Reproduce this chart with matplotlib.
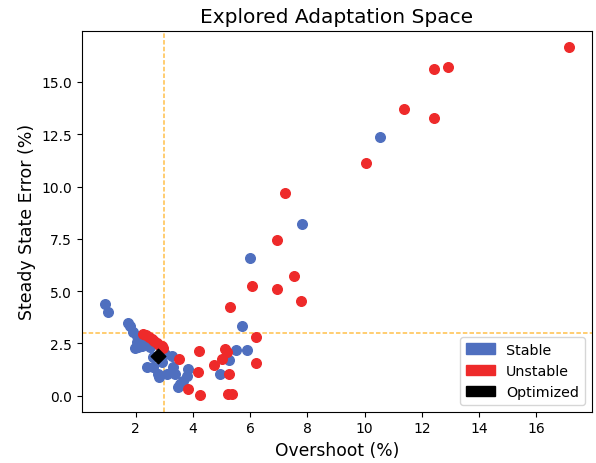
import numpy as np
import matplotlib
matplotlib.use("Agg")
import matplotlib.pyplot as plt
from matplotlib.patches import Patch

# 稳定点 (overshoot %, steady state error %)
stable_x = [0.93, 1.02, 1.74, 1.80, 1.92, 2.03, 2.15, 2.33, 2.50, 2.03, 2.09, 1.98,
            2.21, 2.62, 3.02, 3.26, 2.91, 2.38, 2.62, 3.31, 3.84, 2.79, 3.37, 3.78,
            3.66, 3.55, 3.49, 2.83, 3.08, 4.95, 5.26, 5.50, 5.88, 5.73, 5.98, 7.81,
            10.53]
stable_y = [4.39, 4.02, 3.47, 3.32, 3.03, 2.87, 2.71, 2.47, 2.32, 2.55, 2.32, 2.27,
            2.39, 1.84, 2.00, 1.91, 1.60, 1.36, 1.36, 1.36, 1.28, 1.04, 1.04, 0.96,
            0.72, 0.56, 0.40, 0.91, 1.04, 1.04, 1.71, 2.19, 2.19, 3.35, 6.59, 8.23,
            12.36]

# 不稳定点
unstable_x = [2.27, 2.37, 2.47, 2.56, 2.65, 2.74, 2.83, 2.92, 2.97, 3.50, 4.19, 3.84,
              4.25, 4.22, 4.74, 5.01, 5.12, 5.18, 5.27, 5.24, 5.36, 6.21, 6.20, 5.30,
              6.08, 6.95, 7.53, 7.78, 6.92, 7.20, 10.04, 11.38, 12.43, 12.43, 12.93,
              17.15]
unstable_y = [2.95, 2.88, 2.78, 2.70, 2.62, 2.52, 2.44, 2.36, 2.27, 1.76, 1.12, 0.32,
              0.05, 2.15, 1.44, 1.76, 2.23, 2.08, 1.04, 0.08, 0.08, 1.55, 2.79, 4.23,
              5.26, 5.11, 5.71, 4.52, 7.44, 9.71, 11.13, 13.70, 13.27, 15.63, 15.74,
              16.67]

# 最优点
opt_x = [2.78]
opt_y = [1.87]

threshold = 3.0

blue = '#4f6fbf'
red = '#ee2a2a'

fig = plt.figure(figsize=(5.96, 4.64), dpi=100)
ax = fig.add_axes([0.137, 0.1106, 0.856, 0.8214])

ax.scatter(stable_x, stable_y, s=48, color=blue, zorder=3)
ax.scatter(unstable_x, unstable_y, s=48, color=red, zorder=3)
ax.scatter(opt_x, opt_y, s=55, marker='D', color='black', zorder=4)

ax.axvline(threshold, color='orange', linestyle=(0, (2.5, 1.2)), linewidth=1.3, alpha=0.6)
ax.axhline(threshold, color='orange', linestyle=(0, (2.5, 1.2)), linewidth=1.3, alpha=0.6)

ax.set_xlim(0.11, 17.94)
ax.set_ylim(-0.77, 17.46)

ax.set_title('Explored Adaptation Space', fontsize=14.5)
ax.set_xlabel('Overshoot (%)', fontsize=12.3)
ax.set_ylabel('Steady State Error (%)', fontsize=12.5)
ax.tick_params(labelsize=10)

handles = [Patch(color=blue, label='Stable'),
           Patch(color=red, label='Unstable'),
           Patch(color='black', label='Optimized')]
ax.legend(handles=handles, loc='lower right', fontsize=10.3)

fig.savefig('out.png', dpi=100)
